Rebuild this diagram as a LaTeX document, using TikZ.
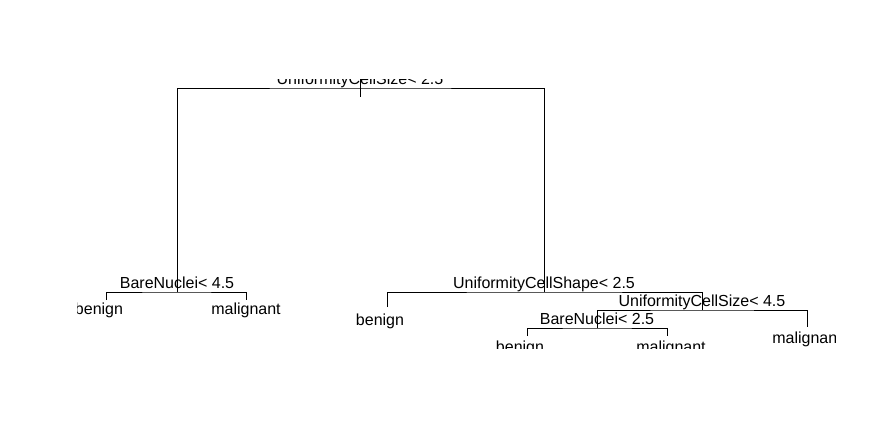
\documentclass[tikz,border=0pt]{standalone}
\usepackage{fontspec}
\setmainfont{Liberation Sans}
\usetikzlibrary{positioning}

\begin{document}
\begin{tikzpicture}[x=1pt, y=-1pt, line width=0.8pt,
  splitlab/.style={anchor=base, inner sep=0pt, font=\fontsize{16}{19}\selectfont},
  leaflab/.style={anchor=base, inner sep=0pt, font=\fontsize{16}{19}\selectfont}]

\useasboundingbox[fill=white] (0,0) rectangle (876,445);
\clip (77,79) rectangle (835,348);

% splits
\coordinate (root) at (360,88);
\coordinate (bn1) at (177,292);
\coordinate (ucs) at (544,292);
\coordinate (ucz) at (702,310);
\coordinate (bn2) at (597,328);

% leaves
\coordinate (l1) at (106,300);
\coordinate (l2) at (246,300);
\coordinate (l3) at (387,307);
\coordinate (l4) at (807,327);
\coordinate (l5) at (527,336);
\coordinate (l6) at (667,336);

\draw (root) ++(0,-10) -- ++(0,19);
\draw (bn1) |- (root) -| (ucs);
\draw (l1) |- (bn1) -| (l2);
\draw (l3) |- (ucs) -| (ucz);
\draw (bn2) |- (ucz) -| (l4);
\draw (l5) |- (bn2) -| (l6);

\node[splitlab] (s1) at (360,84.5) {UniformityCellSize< 2.5};
\node[splitlab] (s2) at (177,288) {BareNuclei< 4.5};
\node[splitlab] (s3) at (544,288) {UniformityCellShape< 2.5};
\node[splitlab] (s4) at (702,306) {UniformityCellSize< 4.5};
\node[splitlab] (s5) at (597,324) {BareNuclei< 2.5};

\node[leaflab] (t1) at (99,314.5) {benign};
\node[leaflab] (t2) at (246,314.5) {malignant};
\node[leaflab] (t3) at (380,325) {benign};
\node[leaflab] (t4) at (807,343) {malignant};
\node[leaflab] (t5) at (520,352.5) {benign};
\node[leaflab] (t6) at (671,352.5) {malignant};

\end{tikzpicture}
\end{document}
